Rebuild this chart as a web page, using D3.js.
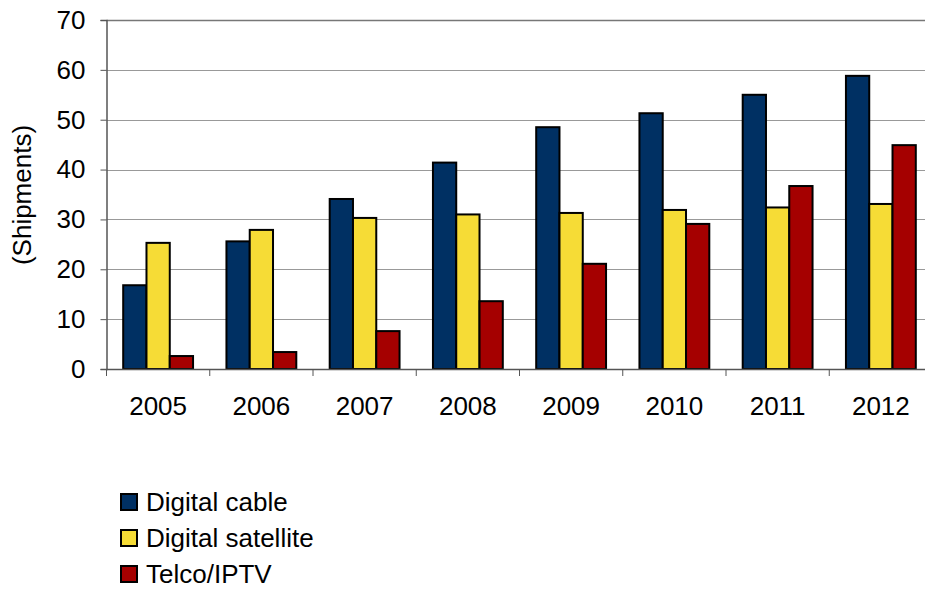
<!DOCTYPE html>
<html>
<head>
<meta charset="utf-8">
<script src="https://cdn.jsdelivr.net/npm/d3@7"></script>
<style>
body { margin: 0; background: #fff; }
svg { font-family: "Liberation Sans", Arial, sans-serif; }
</style>
</head>
<body>
<div id="chart"></div>
<script>
var years = ["2005", "2006", "2007", "2008", "2009", "2010", "2011", "2012"];
var seriesNames = ["Digital cable", "Digital satellite", "Telco/IPTV"];
var cable = [16.8, 25.6, 34.1, 41.4, 48.5, 51.3, 55.0, 58.8];
var satellite = [25.3, 27.9, 30.3, 31.0, 31.3, 31.9, 32.4, 33.1];
var iptv = [2.6, 3.4, 7.6, 13.6, 21.1, 29.1, 36.7, 44.9];
var yTicks = [0, 10, 20, 30, 40, 50, 60, 70];
var colors = ["#003063", "#f6dc36", "#a50000"];

var svg = d3.select("#chart").append("svg")
    .attr("width", 925)
    .attr("height", 590);

var margin = {top: 20, left: 106.5};
var width = 826, height = 349;
var g = svg.append("g").attr("transform", "translate(" + margin.left + "," + margin.top + ")");

var x0 = d3.scaleBand().domain(years).range([0, width]).paddingInner(0).paddingOuter(0);
var x1 = d3.scaleBand().domain(seriesNames).range([16.7, x0.bandwidth() - 16.7]);
var y = d3.scaleLinear().domain([0, 70]).range([height, 0]);

var table = years.map(function(yr, i) {
    return {year: yr, values: [cable[i], satellite[i], iptv[i]]};
});

// gridlines
g.append("g")
    .selectAll("line")
    .data(yTicks.filter(function(d) { return d > 0; }))
    .enter().append("line")
    .attr("x1", 0).attr("x2", width)
    .attr("y1", function(d) { return Math.round(y(d)) + 0.5; })
    .attr("y2", function(d) { return Math.round(y(d)) + 0.5; })
    .attr("stroke", function(d) { return d === 70 ? "#777" : "#999"; })
    .attr("stroke-width", function(d) { return d === 70 ? 1.5 : 1; });

// bars
g.append("g")
    .selectAll("g")
    .data(table)
    .enter().append("g")
    .attr("transform", function(d) { return "translate(" + x0(d.year) + ",0)"; })
    .selectAll("rect")
    .data(function(d) { return d.values.map(function(v, i) { return {key: seriesNames[i], value: v, i: i}; }); })
    .enter().append("rect")
    .attr("x", function(d) { return x1(d.key); })
    .attr("y", function(d) { return y(d.value); })
    .attr("width", x1.bandwidth())
    .attr("height", function(d) { return height - y(d.value); })
    .attr("fill", function(d) { return colors[d.i]; })
    .attr("stroke", "#000")
    .attr("stroke-width", 2);

// y axis
var yAxis = g.append("g")
    .call(d3.axisLeft(y).tickValues(yTicks).tickSize(6).tickPadding(15));
yAxis.select(".domain").attr("stroke", "#555").attr("stroke-width", 1.5);
yAxis.selectAll(".tick line").attr("stroke", "#555");
yAxis.selectAll("text").attr("font-size", 26).attr("fill", "#000")
    .attr("font-family", "Liberation Sans, Arial, sans-serif");

// x axis
var xAxis = g.append("g")
    .attr("transform", "translate(0," + height + ")")
    .call(d3.axisBottom(x0).tickSize(0).tickPadding(28));
xAxis.select(".domain").attr("stroke", "#555").attr("stroke-width", 1.5);
xAxis.selectAll("text").attr("font-size", 26).attr("fill", "#000")
    .attr("font-family", "Liberation Sans, Arial, sans-serif");
xAxis.append("g")
    .selectAll("line")
    .data(years)
    .enter().append("line")
    .attr("x1", function(d) { return x0(d); })
    .attr("x2", function(d) { return x0(d); })
    .attr("y1", 0).attr("y2", 7)
    .attr("stroke", "#555");

// y label
svg.append("text")
    .attr("transform", "translate(22,195) rotate(-90)")
    .attr("text-anchor", "middle")
    .attr("dy", "0.35em")
    .attr("font-size", 26)
    .text("(Shipments)");

// legend
var legend = svg.append("g")
    .selectAll("g")
    .data(seriesNames)
    .enter().append("g")
    .attr("transform", function(d, i) { return "translate(121," + (494 + i * 36) + ")"; });

legend.append("rect")
    .attr("width", 16).attr("height", 16)
    .attr("fill", function(d, i) { return colors[i]; })
    .attr("stroke", "#000")
    .attr("stroke-width", 2);

legend.append("text")
    .attr("x", 25)
    .attr("y", 8)
    .attr("dy", "0.36em")
    .attr("font-size", 26)
    .text(function(d) { return d; });
</script>
</body>
</html>
